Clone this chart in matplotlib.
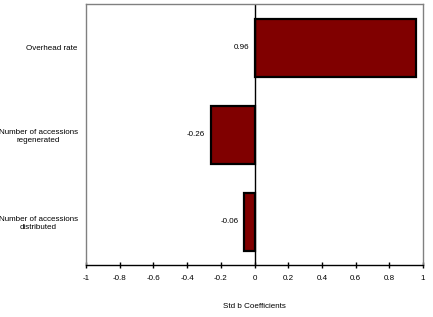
import numpy as np
import matplotlib.pyplot as plt

# Data
labels = ["Overhead rate", "Number of accessions\nregenerated", "Number of accessions\ndistributed"]
values = [0.96, -0.26, -0.06]
xticks = [-1, -0.8, -0.6, -0.4, -0.2, 0, 0.2, 0.4, 0.6, 0.8, 1]

plt.rcParams['font.family'] = ['Liberation Sans', 'DejaVu Sans']
fs = 5.8

fig = plt.figure(figsize=(4.33, 3.17), dpi=100)
ax = fig.add_axes([86/433, 1-265/317, (423-86)/433, (265-4.3)/317])

ypos = np.arange(len(labels))
ax.barh(ypos, values, height=0.667, color='#800000', edgecolor='black', linewidth=1.6)

# zero line
ax.axvline(0, color='black', linewidth=1)

# value labels
for y, v in zip(ypos, values):
    ax.annotate(f"{v:.2f}", xy=(min(v, 0), y), xytext=(-4, 0), textcoords='offset points',
                ha='right', va='center', fontsize=fs)

ax.set_xlim(-1, 1)
ax.set_ylim(len(labels) - 0.5, -0.5)
ax.set_xticks(xticks)
ax.set_xticklabels([f"{t:g}" for t in xticks], fontsize=fs)
ax.set_yticks(ypos)
ax.set_yticklabels(labels, fontsize=fs, multialignment='center')
ax.tick_params(axis='y', length=0, pad=6)
ax.tick_params(axis='x', direction='inout', length=4, width=1, pad=5)

for s in ['left', 'right', 'top']:
    ax.spines[s].set_color('#808080')
    ax.spines[s].set_linewidth(1)
ax.spines['bottom'].set_color('black')
ax.spines['bottom'].set_linewidth(1)

ax.set_xlabel("Std b Coefficients", fontsize=fs, labelpad=15)

fig.savefig("out.png", dpi=100)
